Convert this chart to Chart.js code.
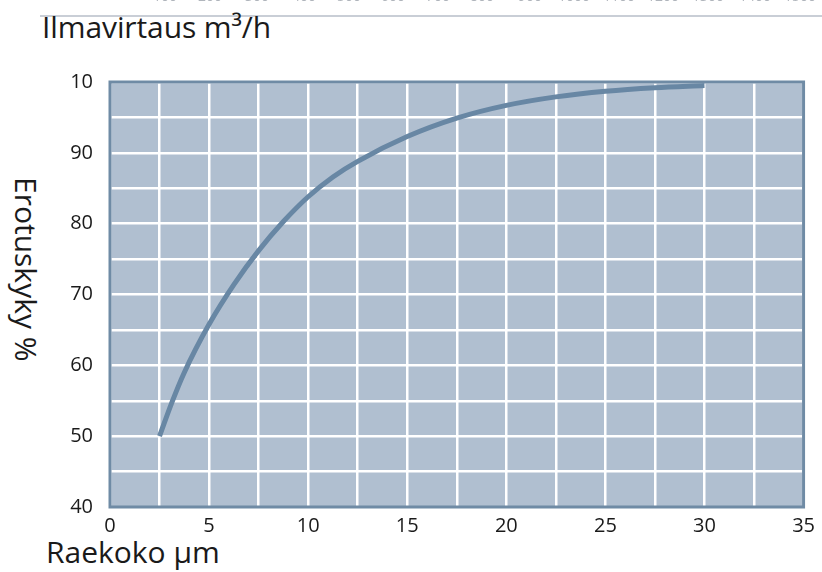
<!DOCTYPE html>
<html>
<head>
<meta charset="utf-8">
<script src="https://cdn.jsdelivr.net/npm/chart.js@4"></script>
<style>
  html, body { margin: 0; padding: 0; background: #fff; }
  #wrap { position: relative; width: 822px; height: 572px; overflow: hidden; font-family: 'Open Sans', sans-serif; }
  #chart { position: absolute; left: 0; top: 0; }
  .topTick { position: absolute; top: -14px; font-size: 14px; color: #b0b5bc; transform: translateX(-50%); }
  #topRule { position: absolute; left: 40px; right: 0; top: 15px; height: 2px; background: #c9ced6; }
  #flowTitle { position: absolute; left: 42px; top: 6px; font-size: 30px; color: #1a1a1a; letter-spacing: -0.1px; }
  #xTitle { position: absolute; left: 46px; top: 531px; font-size: 30px; color: #1a1a1a; }
  #yTitle { position: absolute; left: 6px; top: 177px; font-size: 30px; color: #1a1a1a; writing-mode: vertical-rl; }
</style>
</head>
<body>
<div id="wrap">
  <div id="topRule"></div>
  <div id="flowTitle">Ilmavirtaus m³/h</div>
  <div id="yTitle">Erotuskyky %</div>
  <div id="xTitle">Raekoko µm</div>
  <canvas id="chart" width="822" height="572"></canvas>
</div>
<script>
const particleSize = [2.5, 3.1, 3.75, 5, 6.25, 7.5, 8.75, 10, 11.25, 12.5, 15, 17.5, 20, 22.5, 25, 27.5, 30];
const efficiency = [50, 54.6, 59.0, 65.8, 71.4, 76.2, 80.3, 83.8, 86.6, 88.8, 92.3, 94.9, 96.7, 97.9, 98.7, 99.2, 99.5];
const flowTicks = ['100', '200', '300', '400', '500', '600', '700', '800', '900', '1000', '1100', '1200', '1300', '1400', '1500'];
const flowTickX = [165, 210, 257, 304, 349, 393, 438, 482, 530, 574, 619, 663, 708, 755, 800];

function addTopTicks() {
  const wrap = document.getElementById('wrap');
  flowTicks.forEach((t, i) => {
    const s = document.createElement('span');
    s.className = 'topTick';
    s.style.left = flowTickX[i] + 'px';
    s.textContent = t;
    wrap.appendChild(s);
  });
}

const plotFrame = {
  id: 'plotFrame',
  beforeDraw(chart) {
    const a = chart.chartArea;
    const ctx = chart.ctx;
    ctx.save();
    ctx.fillStyle = '#b0bfd0';
    ctx.fillRect(a.left, a.top, a.right - a.left, a.bottom - a.top);
    ctx.restore();
  },
  afterDraw(chart) {
    const a = chart.chartArea;
    const ctx = chart.ctx;
    ctx.save();
    ctx.strokeStyle = '#6f8ba5';
    ctx.lineWidth = 3;
    ctx.strokeRect(a.left, a.top, a.right - a.left, a.bottom - a.top);
    ctx.restore();
  },
};

function buildChart() {
  const ctx = document.getElementById('chart');
  new Chart(ctx, {
    type: 'line',
    data: {
      datasets: [{
        data: particleSize.map((x, i) => ({ x, y: efficiency[i] })),
        borderColor: '#6887a4',
        borderWidth: 5,
        pointRadius: 0,
        cubicInterpolationMode: 'monotone',
        fill: false,
      }],
    },
    options: {
      responsive: false,
      animation: false,
      layout: { padding: { top: 82, right: 17, left: 0, bottom: 0 } },
      plugins: { legend: { display: false }, tooltip: { enabled: false } },
      scales: {
        x: {
          type: 'linear',
          min: 0,
          max: 35,
          afterFit: (s) => { s.height = 65; },
          grid: { color: '#ffffff', lineWidth: 2.5, drawTicks: false },
          border: { display: false },
          ticks: {
            stepSize: 2.5,
            autoSkip: false,
            maxRotation: 0,
            padding: 7,
            color: '#1a1a1a',
            font: { family: 'Open Sans', size: 20 },
            callback: (v) => (v % 5 === 0 ? String(v) : ''),
          },
        },
        y: {
          min: 40,
          max: 100,
          afterFit: (s) => { s.width = 110; },
          grid: { color: '#ffffff', lineWidth: 2.5, drawTicks: false },
          border: { display: false },
          ticks: {
            stepSize: 5,
            autoSkip: false,
            padding: 17,
            color: '#1a1a1a',
            font: { family: 'Open Sans', size: 20 },
            callback: (v) => (v % 10 === 0 ? (v === 100 ? '10' : String(v)) : ''),
          },
        },
      },
    },
    plugins: [plotFrame],
  });
}

addTopTicks();
buildChart();
</script>
</body>
</html>
